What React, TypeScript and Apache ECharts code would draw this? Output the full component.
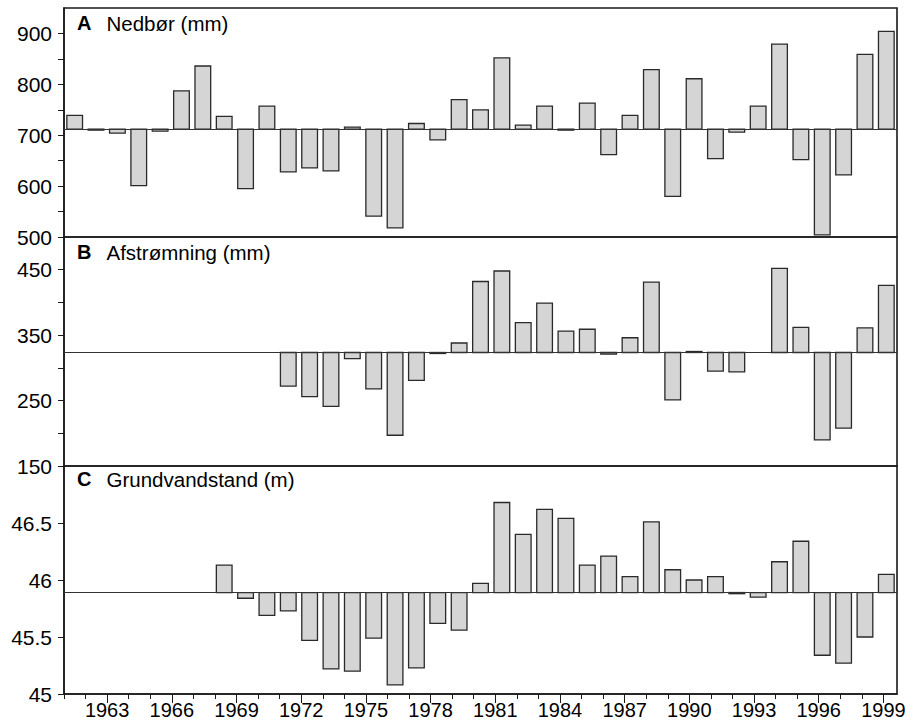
import React, { useEffect, useRef } from "react";
import * as echarts from "echarts";

const years = [
  "1961", "1962", "1963", "1964", "1965", "1966", "1967", "1968", "1969", "1970",
  "1971", "1972", "1973", "1974", "1975", "1976", "1977", "1978", "1979", "1980",
  "1981", "1982", "1983", "1984", "1985", "1986", "1987", "1988", "1989", "1990",
  "1991", "1992", "1993", "1994", "1995", "1996", "1997", "1998", "1999",
];

const tickYears = [
  1961, 1962, 1963, 1964, 1965, 1966, 1967, 1968, 1969, 1970,
  1971, 1972, 1973, 1974, 1975, 1976, 1977, 1978, 1979, 1980,
  1981, 1982, 1983, 1984, 1985, 1986, 1987, 1988, 1989, 1990,
  1991, 1992, 1993, 1994, 1995, 1996, 1997, 1998, 1999,
];
const labelYears = [1963, 1966, 1969, 1972, 1975, 1978, 1981, 1984, 1987, 1990, 1993, 1996, 1999];

// A: Nedbør (mm)
const nedbor: (number | null)[] = [
  739, 710, 704, 601, 708, 787, 836, 737, 595, 757,
  628, 636, 630, 716, 541, 518, 723, 691, 770, 750,
  852, 720, 757, 710, 763, 662, 739, 829, 580, 811,
  654, 706, 757, 879, 652, 504, 622, 859, 904,
];
const nedborBase = 712;

// B: Afstrømning (mm)
const afstromning: (number | null)[] = [
  null, null, null, null, null, null, null, null, null, null,
  272, 256, 241, 314, 268, 197, 281, 322, 338, 432,
  448, 369, 399, 356, 359, 321, 346, 431, 251, 325,
  295, 294, null, 452, 362, 190, 208, 361, 426,
];
const afstromningBase = 323.5;

// C: Grundvandstand (m)
const grundvand: (number | null)[] = [
  null, null, null, null, null, null, null, 46.13, 45.84, 45.69,
  45.73, 45.47, 45.22, 45.2, 45.49, 45.08, 45.23, 45.62, 45.56, 45.97,
  46.68, 46.4, 46.62, 46.54, 46.13, 46.21, 46.03, 46.51, 46.09, 46.0,
  46.03, 45.88, 45.85, 46.16, 46.34, 45.34, 45.27, 45.5, 46.05,
];
const grundvandBase = 45.89;

const FONT = "'Liberation Sans', Arial, Helvetica, sans-serif";
const DARK = "#1a1a1a";

function makeRender(base: number) {
  return (params: any, api: any) => {
    const v = api.value(1);
    if (v == null || isNaN(v)) return null;
    const x = api.value(0);
    const p1 = api.coord([x, v]);
    const p0 = api.coord([x, base]);
    const w = api.size([1, 0])[0] * 0.735;
    const top = Math.min(p0[1], p1[1]);
    const h = Math.max(Math.abs(p1[1] - p0[1]), 1);
    return {
      type: "rect",
      shape: { x: p1[0] - w / 2, y: top, width: w, height: h },
      style: { fill: "#d5d5d5", stroke: "#2a2a2a", lineWidth: 1.3 },
    };
  };
}

function toData(vals: (number | null)[]) {
  const out: any[] = [];
  vals.forEach((v, i) => {
    if (v != null) out.push([i, v]);
  });
  return out;
}

function baseLine(base: number) {
  return {
    silent: true,
    symbol: "none",
    animation: false,
    label: { show: false },
    lineStyle: { color: "#333", width: 1, type: "solid" },
    data: [{ yAxis: base }],
  };
}

function yAxisBase(gridIndex: number, min: number, max: number, interval: number, fmt: (v: number) => string) {
  return {
    type: "value",
    gridIndex,
    min,
    max,
    interval,
    axisLine: { show: true, onZero: false, lineStyle: { color: DARK, width: 1.5 } },
    axisTick: { show: true, inside: false, length: 6, lineStyle: { color: DARK, width: 1 } },
    axisLabel: {
      show: true,
      margin: 12,
      fontSize: 21,
      color: "#000",
      fontFamily: FONT,
      showMaxLabel: false,
      formatter: fmt,
    },
    splitLine: { show: false },
  };
}

function catAxis(gridIndex: number) {
  return {
    type: "category",
    gridIndex,
    data: years,
    boundaryGap: true,
    show: false,
  };
}

export default function App() {
  const ref = useRef<HTMLDivElement>(null);
  useEffect(() => {
    if (!ref.current) return;
    const chart = echarts.init(ref.current, null, { renderer: "svg" });
    const gridStyle = { show: true, borderColor: DARK, borderWidth: 1.6, backgroundColor: "transparent" };
    const option: any = {
      animation: false,
      textStyle: { fontFamily: FONT },
      grid: [
        { left: 64, right: 22, top: 8, height: 229, ...gridStyle },
        { left: 64, right: 22, top: 237, height: 229, ...gridStyle },
        { left: 64, right: 22, top: 466, height: 228, ...gridStyle },
      ],
      xAxis: [
        catAxis(0),
        catAxis(1),
        catAxis(2),
        {
          type: "value",
          gridIndex: 2,
          min: 1961,
          max: 1999.63,
          position: "bottom",
          axisLine: { show: true, onZero: false, lineStyle: { color: DARK, width: 1.6 } },
          axisTick: { show: true, length: 5, customValues: tickYears, lineStyle: { color: DARK, width: 1 } },
          axisLabel: { show: false },
          splitLine: { show: false },
        },
        {
          type: "value",
          gridIndex: 2,
          min: 1961,
          max: 1999.63,
          position: "bottom",
          axisLine: { show: false, onZero: false },
          axisTick: { show: true, length: 9, customValues: labelYears, lineStyle: { color: DARK, width: 1 } },
          axisLabel: {
            show: true,
            customValues: labelYears,
            margin: 6,
            fontSize: 20,
            color: "#000",
            fontFamily: FONT,
            formatter: (v: number) => String(Math.round(v)),
          },
          splitLine: { show: false },
        },
      ],
      yAxis: [
        yAxisBase(0, 500, 950, 50, (v: number) => (v % 100 === 0 && v <= 900 ? String(v) : "")),
        yAxisBase(1, 150, 500, 50, (v: number) => ((v - 150) % 100 === 0 && v < 500 ? String(v) : "")),
        yAxisBase(2, 45, 47, 0.5, (v: number) => (v < 46.9 ? String(v) : "")),
      ],
      series: [
        {
          type: "custom",
          xAxisIndex: 0,
          yAxisIndex: 0,
          renderItem: makeRender(nedborBase),
          encode: { x: 0, y: 1 },
          data: toData(nedbor),
          markLine: baseLine(nedborBase),
          z: 3,
        },
        {
          type: "custom",
          xAxisIndex: 1,
          yAxisIndex: 1,
          renderItem: makeRender(afstromningBase),
          encode: { x: 0, y: 1 },
          data: toData(afstromning),
          markLine: baseLine(afstromningBase),
          z: 3,
        },
        {
          type: "custom",
          xAxisIndex: 2,
          yAxisIndex: 2,
          renderItem: makeRender(grundvandBase),
          encode: { x: 0, y: 1 },
          data: toData(grundvand),
          markLine: baseLine(grundvandBase),
          z: 3,
        },
      ],
      graphic: [
        { type: "text", x: 77, y: 23, style: { text: "A", fontSize: 20, fontWeight: "bold", fontFamily: FONT, fill: "#000", verticalAlign: "middle" } },
        { type: "text", x: 106.5, y: 23, style: { text: "Nedbør (mm)", fontSize: 20.5, fontFamily: FONT, fill: "#000", verticalAlign: "middle" } },
        { type: "text", x: 77, y: 252, style: { text: "B", fontSize: 20, fontWeight: "bold", fontFamily: FONT, fill: "#000", verticalAlign: "middle" } },
        { type: "text", x: 106.5, y: 252, style: { text: "Afstrømning (mm)", fontSize: 20.5, fontFamily: FONT, fill: "#000", verticalAlign: "middle" } },
        { type: "text", x: 77, y: 479, style: { text: "C", fontSize: 20, fontWeight: "bold", fontFamily: FONT, fill: "#000", verticalAlign: "middle" } },
        { type: "text", x: 106.5, y: 479, style: { text: "Grundvandstand (m)", fontSize: 20.5, fontFamily: FONT, fill: "#000", verticalAlign: "middle" } },
      ],
    };
    chart.setOption(option);
    return () => chart.dispose();
  }, []);
  return (
    <div
      ref={ref}
      style={{ position: "fixed", left: 0, top: 0, width: 919, height: 728, background: "#fff" }}
    />
  );
}
